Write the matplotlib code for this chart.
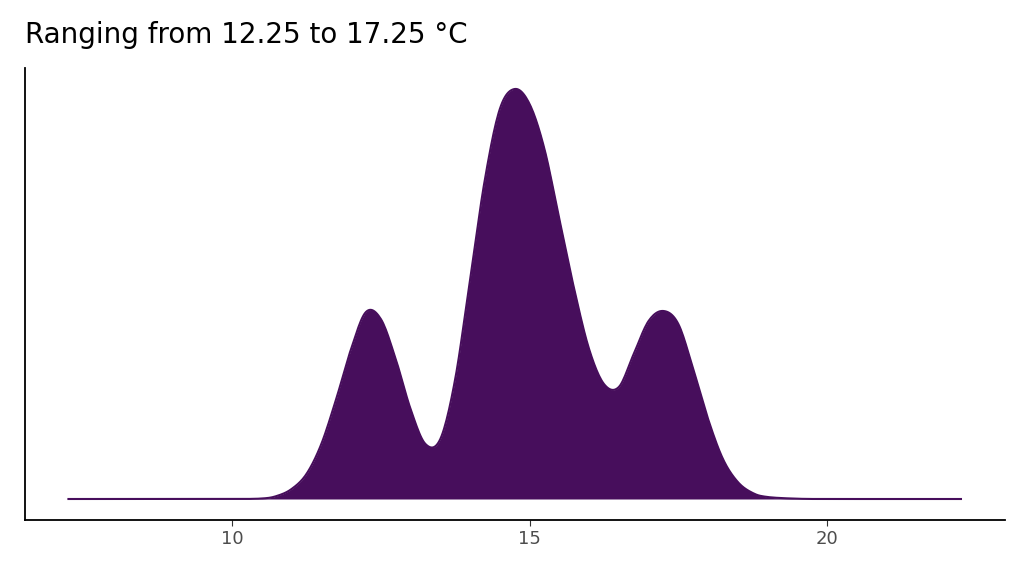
import numpy as np
import matplotlib
matplotlib.use("Agg")
import matplotlib.pyplot as plt

temps = [7.25, 8.0, 9.0, 10.0, 10.5, 10.75, 11.0, 11.25, 11.5, 11.75, 12.0, 12.25, 12.5, 12.75,
         13.0, 13.25, 13.5, 13.75, 14.0, 14.25, 14.5, 14.75, 15.0, 15.25, 15.5, 15.75,
         16.0, 16.25, 16.5, 16.75, 17.0, 17.25, 17.5, 17.75, 18.0, 18.25, 18.5, 18.75,
         19.0, 19.5, 20.0, 21.0, 22.25]
density = [0, 0, 0, 0, 0.5, 3, 10, 25, 55, 100, 150, 187, 180, 140,
           90, 55, 60, 120, 220, 320, 390, 410, 395, 350, 280, 210,
           150, 115, 112, 145, 178, 188, 175, 130, 80, 40, 17, 6,
           2, 0.3, 0, 0, 0]
density = [d / 1000 for d in density]

def catmull(x, y, n=12):
    x = np.asarray(x, float); y = np.asarray(y, float)
    px = np.concatenate([[x[0]], x, [x[-1]]]); py = np.concatenate([[y[0]], y, [y[-1]]])
    xs, ys = [], []
    for i in range(1, len(px) - 2):
        t = np.linspace(0, 1, n, endpoint=False)
        for arr, out in ((px, xs), (py, ys)):
            p0, p1, p2, p3 = arr[i-1], arr[i], arr[i+1], arr[i+2]
            out.append(0.5 * ((2*p1) + (-p0+p2)*t + (2*p0-5*p1+4*p2-p3)*t**2 + (-p0+3*p1-3*p2+p3)*t**3))
    xs.append([x[-1]]); ys.append([y[-1]])
    return np.concatenate(xs), np.clip(np.concatenate(ys), 0, None)

xs, ys = catmull(temps, density)
col = "#470E5C"
fig = plt.figure(figsize=(10.24, 5.76), dpi=100)
ax = fig.add_axes([25/1024, 1-520/576, 980/1024, 452/576])
ax.fill_between(xs, ys, 0, color=col, lw=0)
ax.plot(xs, ys, color=col, lw=1.5)
ax.set_xlim(6.52, 22.99)
ax.set_ylim(-0.021, 0.431)
ax.set_yticks([])
ax.set_xticks([10, 15, 20])
ax.tick_params(axis='x', labelsize=13, labelcolor='#4d4d4d', length=4, color='#333333')
for s in ['top', 'right']:
    ax.spines[s].set_visible(False)
for s in ['left', 'bottom']:
    ax.spines[s].set_linewidth(1.3)
fig.text(25/1024, 1-35/576, "Ranging from 12.25 to 17.25 °C", fontsize=20, va='center')
fig.savefig("out.png", dpi=100)
